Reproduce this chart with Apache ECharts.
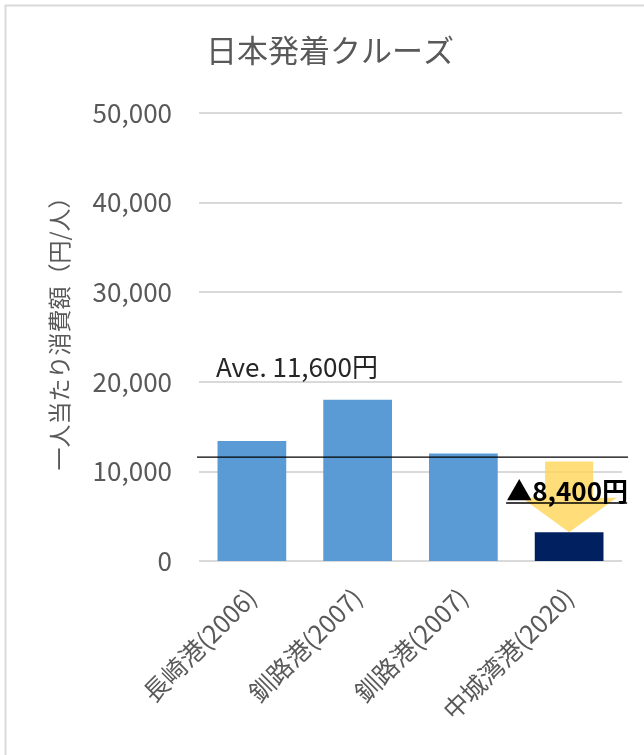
<!DOCTYPE html>
<html>
<head>
<meta charset="utf-8">
<script src="https://cdn.jsdelivr.net/npm/echarts@6/dist/echarts.min.js"></script>
<style>
html,body{margin:0;padding:0;background:#fff;}
#c{width:644px;height:755px;}
</style>
</head>
<body>
<div id="c"></div>
<script>
var titleText = '日本発着クルーズ';
var yAxisName = '一人当たり消費額（円/人）';
var categories = ['長崎港(2006)', '釧路港(2007)', '釧路港(2007)', '中城湾港(2020)'];
var values = [13400, 18000, 12000, 3200];
var average = 11600;
var yTicks = [0, 10000, 20000, 30000, 40000, 50000];

var FONT = '"Noto Sans CJK JP", "Noto Sans", sans-serif';
var barColors = ['#5B9BD5', '#5B9BD5', '#5B9BD5', '#002060'];
var lastIdx = values.length - 1;
function fmt(n){ return n.toLocaleString('en-US'); }

var chart = echarts.init(document.getElementById('c'), null, {renderer:'canvas'});
chart.setOption({
  animation: false,
  backgroundColor: '#fff',
  title: {
    text: titleText, left: 201, top: 30,
    textStyle: {fontFamily: FONT, fontSize: 31, fontWeight: 'normal', color: '#595959'}
  },
  graphic: [
    {type:'line', shape:{x1:5, y1:5.5, x2:644, y2:5.5}, style:{stroke:'#D9D9D9', lineWidth:2}},
    {type:'line', shape:{x1:5.5, y1:5, x2:5.5, y2:755}, style:{stroke:'#D9D9D9', lineWidth:2}}
  ],
  grid: {left: 199, right: 22, top: 113, bottom: 194},
  xAxis: {
    type: 'category', data: categories,
    axisLine: {show: false}, axisTick: {show: false},
    axisLabel: {rotate: 45, margin: 32, fontFamily: FONT, fontSize: 25, color: '#595959', interval: 0}
  },
  yAxis: {
    type: 'value', min: yTicks[0], max: yTicks[yTicks.length-1], interval: 10000,
    name: yAxisName, nameLocation: 'middle', nameGap: 128,
    nameTextStyle: {fontFamily: FONT, fontSize: 23, color: '#595959', padding:[0,0,0,18]},
    axisLine: {show: false}, axisTick: {show: false},
    axisLabel: {margin: 27, fontFamily: FONT, fontSize: 26, color: '#595959',
      formatter: function(v){ return fmt(v); }},
    splitLine: {lineStyle: {color: '#D9D9D9', width: 2}}
  },
  series: [
    {
      type: 'bar', barWidth: '65%',
      data: values.map(function(v, i){ return {value: v, itemStyle: {color: barColors[i]}}; }),
      z: 2
    },
    {
      type: 'custom', clip: false, z: 5,
      data: [[lastIdx, average, values[lastIdx]]],
      renderItem: function(params, api){
        var top = api.coord([api.value(0), api.value(1)]);
        var bot = api.coord([api.value(0), api.value(2)]);
        var first = api.coord([0, api.value(1)]);
        var cw = api.size([1, 0])[0];
        var cx = top[0];
        var y0 = top[1] + 4.5, y1 = bot[1];
        var headY = y0 + (y1 - y0) * 0.51;
        var sw = cw * 0.455 / 2, hw = cw * 0.9 / 2;
        var diff = api.value(1) - api.value(2);
        return {
          type: 'group',
          children: [
            {type: 'polygon', shape: {points: [
              [cx - sw, y0], [cx + sw, y0], [cx + sw, headY], [cx + hw, headY],
              [cx, y1], [cx - hw, headY], [cx - sw, headY]
            ]}, style: {fill: 'rgba(255,214,90,0.82)'}, z2: 1},
            {type: 'line', shape: {x1: first[0] - cw/2 - 2, y1: top[1], x2: cx + cw/2 + 6, y2: top[1]},
             style: {stroke: '#000', lineWidth: 1.3}, z2: 2},
            {type: 'text', x: first[0] - cw/2 + 17, y: top[1] - 90,
             style: {text: 'Ave. ' + fmt(api.value(1)) + '円', font: '26px ' + FONT, fill: '#262626', textVerticalAlign: 'middle'}, z2: 3},
            {type: 'text', x: cx - 2, y: top[1] + 34,
             style: {text: '▲' + fmt(diff) + '円', font: 'bold 26px ' + FONT, fill: '#000', textAlign: 'center', textVerticalAlign: 'middle'}, z2: 3},
            {type: 'line', shape: {x1: cx - 63, y1: top[1] + 46, x2: cx + 58, y2: top[1] + 46},
             style: {stroke: '#000', lineWidth: 1.5}, z2: 3}
          ]
        };
      }
    }
  ]
});
</script>
</body>
</html>
